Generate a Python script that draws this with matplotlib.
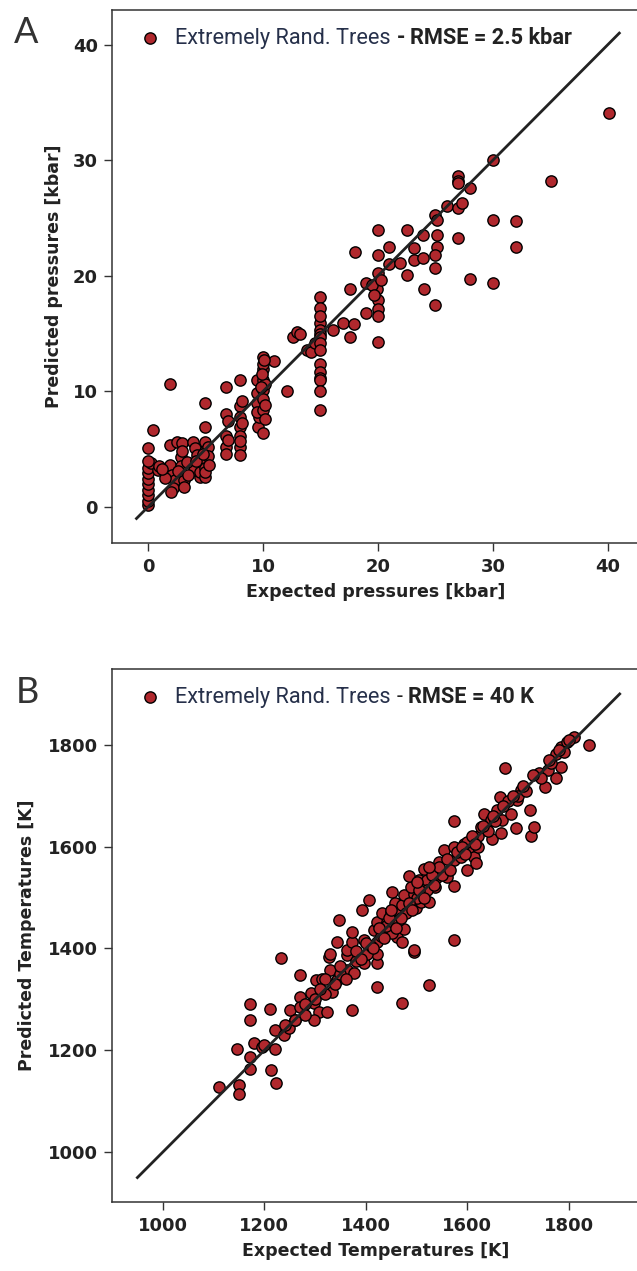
import matplotlib
matplotlib.use('Agg')
import matplotlib.pyplot as plt
import numpy as np


# panel A: pressures [kbar]
exp_p = [0, 0, 0, 0, 0, 0, 0, 0, 0, 0.3, 0.4, 0.9, 1,
         1.9, 1.9, 2.5, 1.9, 2.1, 2.35, 2.2, 2,
         2.9, 2.9, 3.1, 3.1, 3, 3,
         3.9, 4.1, 4.3, 4.5, 4.5, 4, 4.5,
         5, 5, 5, 5, 5, 5, 5, 5, 5.2, 5.2,
         6.8, 6.8, 6.8, 6.8, 6.8, 7, 7,
         8, 8, 8, 8, 8, 8, 8, 8.2, 8.2, 8,
         9.5, 9.5, 9.5, 9.6, 9.7, 9.5,
         10, 10, 10, 10, 10, 10, 10, 10, 10.2, 10.2, 10.2,
         11, 12.1, 12.6, 13, 13.8, 14.2, 13.2, 14.5,
         15, 15, 15, 15, 15, 15, 15, 15, 15, 15, 15, 15, 15, 15, 15,
         16.1, 17, 17.9, 17.6,
         18, 17.6, 19, 19.9, 20, 20, 19, 20, 19.5, 19.7, 20,
         20, 20, 20, 20.3, 21, 21, 21.9, 22.5, 22.5, 23.1, 23.1, 23.9, 23.9, 24,
         25, 25.1, 25.1, 25.1, 25, 25, 25,
         26, 27, 27, 27, 27, 27, 28, 27.3,
         30, 30, 30, 28, 32, 32, 35.1, 40.1,
         0, 1.5, 1.2, 2.6, 3.4, 3.5, 4.2, 4.8, 5.3, 9.8, 9.9, 10.1]
pred_p = [0.2, 0.5, 1.0, 1.5, 2.0, 2.4, 2.9, 3.4, 5.1, 3.8, 6.7, 3.2, 3.5,
          10.6, 5.4, 5.65, 3.6, 2.8, 2.3, 1.6, 1.3,
          4.35, 3.5, 2.3, 1.75, 5.5, 4.8,
          5.65, 5.1, 4.5, 3.9, 2.6, 3.2, 3.0,
          9.0, 6.95, 5.65, 4.8, 4.1, 3.35, 2.6, 3.0, 5.2, 4.4,
          10.4, 8.0, 6.1, 5.2, 4.6, 7.4, 5.8,
          11.0, 8.7, 7.8, 6.9, 6.1, 5.2, 4.5, 9.2, 7.3, 5.7,
          11.0, 9.85, 9.0, 6.95, 7.8, 8.2,
          13.0, 11.9, 11.0, 10.1, 9.3, 8.4, 6.4, 12.4, 10.6, 8.8, 7.6,
          12.6, 10.0, 14.7, 15.1, 13.6, 13.4, 15.0, 14.2,
          18.2, 17.2, 15.9, 15.3, 15.0, 14.7, 14.2, 13.6, 12.4, 11.7, 11.2, 11.0, 10.0, 8.4, 16.5,
          15.3, 15.9, 15.8, 14.7,
          22.1, 18.9, 19.4, 18.9, 17.9, 17.1, 16.8, 14.3, 19.2, 18.3, 16.5,
          24.0, 21.8, 20.2, 19.6, 22.5, 21.0, 21.1, 20.1, 24.0, 22.4, 21.4, 21.5, 23.5, 18.9,
          25.3, 24.8, 23.5, 22.5, 20.7, 17.5, 21.8,
          26.0, 25.9, 23.3, 28.6, 28.2, 28.0, 27.6, 26.3,
          30.0, 24.8, 19.4, 19.7, 24.7, 22.5, 28.2, 34.1,
          4.0, 2.5, 3.3, 3.1, 3.9, 2.8, 4.0, 4.6, 3.6, 10.4, 11.5, 12.7]

# panel B: temperatures [K]
exp_t = [1110, 1151, 1151, 1146, 1172, 1172, 1179, 1195, 1214, 1224, 1222, 1222, 1238, 1248,
         1171, 1171, 1212, 1250, 1232, 1261,
         1271, 1271, 1271, 1291, 1297, 1307, 1324, 1297, 1301, 1314, 1330, 1334, 1343, 1327,
         1363, 1376, 1363, 1373,
         1396, 1422, 1422, 1403, 1422, 1472, 1524, 1495,
         1330, 1363, 1343, 1373, 1396, 1422, 1462, 1472, 1495, 1574, 1373, 1416, 1452, 1475,
         1347, 1422, 1442, 1465, 1406, 1393, 1432, 1449, 1468, 1452, 1458, 1472, 1498, 1475,
         1495, 1508, 1524, 1488, 1485, 1504, 1521, 1537, 1541, 1514, 1560, 1574,
         1554, 1544, 1574, 1587, 1574, 1593, 1606, 1613, 1600, 1616, 1620, 1626, 1574, 1633,
         1646, 1649, 1666, 1659, 1669, 1685, 1695, 1725, 1731, 1723, 1698, 1705, 1664, 1674,
         1752, 1741, 1774, 1758, 1784, 1764, 1774, 1784, 1797, 1810, 1840,
         1350, 1380, 1410, 1430, 1440, 1455, 1480, 1500, 1520, 1550, 1580, 1600, 1620, 1640,
         1655, 1680, 1700, 1715, 1745, 1790, 1300, 1320, 1260, 1240, 1200, 1280,
         1380, 1390, 1400, 1415, 1425, 1435, 1445, 1460, 1470, 1485, 1490, 1505, 1515, 1530,
         1535, 1545, 1560, 1565, 1590, 1595, 1610, 1615, 1630, 1650, 1670, 1690, 1710, 1730,
         1760, 1780, 1800, 1320, 1340, 1310, 1280, 1350, 1360, 1450, 1500, 1525]
pred_t = [1128, 1132, 1115, 1202, 1187, 1164, 1214, 1207, 1161, 1136, 1202, 1240, 1230, 1243,
          1291, 1259, 1282, 1280, 1381, 1259,
          1348, 1305, 1286, 1312, 1292, 1276, 1276, 1259, 1338, 1341, 1358, 1315, 1338, 1384,
          1358, 1351, 1387, 1280,
          1371, 1371, 1390, 1390, 1324, 1292, 1328, 1394,
          1390, 1397, 1413, 1413, 1416, 1413, 1423, 1413, 1397, 1416, 1433, 1436, 1430, 1439,
          1456, 1452, 1452, 1456, 1495, 1475, 1469, 1472, 1472, 1511, 1489, 1485, 1479, 1505,
          1508, 1492, 1492, 1521, 1542, 1534, 1534, 1521, 1541, 1557, 1541, 1523,
          1593, 1570, 1574, 1580, 1600, 1606, 1600, 1580, 1554, 1567, 1620, 1639, 1650, 1665,
          1652, 1616, 1626, 1672, 1652, 1665, 1636, 1621, 1639, 1672, 1692, 1711, 1698, 1755,
          1718, 1744, 1734, 1750, 1757, 1764, 1783, 1796, 1806, 1816, 1800,
          1350, 1375, 1405, 1425, 1445, 1450, 1470, 1500, 1515, 1545, 1590, 1610, 1600, 1630,
          1650, 1690, 1700, 1710, 1735, 1785, 1300, 1310, 1260, 1250, 1210, 1290,
          1395, 1380, 1410, 1400, 1440, 1420, 1460, 1440, 1460, 1490, 1475, 1515, 1500, 1545,
          1525, 1560, 1575, 1555, 1600, 1585, 1620, 1605, 1640, 1660, 1680, 1700, 1720, 1740,
          1770, 1790, 1810, 1340, 1330, 1320, 1270, 1365, 1340, 1475, 1530, 1560]

p_ticks = [0, 10, 20, 30, 40]
t_ticks = [1000, 1200, 1400, 1600, 1800]

RED = '#b0282d'
DARK = '#222222'
MS = 66


def style_axes(ax, ticks, xlabel, ylabel, ypad):
    ax.set_xticks(ticks)
    ax.set_yticks(ticks)
    ax.spines['right'].set_visible(False)
    for s in ['left', 'top', 'bottom']:
        ax.spines[s].set_color('#333333')
        ax.spines[s].set_linewidth(1.1)
    ax.tick_params(direction='out', length=5.5, width=1, color='#333333',
                   labelsize=13, labelcolor=DARK)
    ax.tick_params(axis='x', pad=5)
    ax.tick_params(axis='y', pad=4.5)
    for lab in ax.get_xticklabels() + ax.get_yticklabels():
        lab.set_fontweight('bold')
    ax.set_xlabel(xlabel, fontsize=12.5, fontweight='bold', color=DARK, labelpad=5)
    ax.set_ylabel(ylabel, fontsize=12.5, fontweight='bold', color=DARK, labelpad=ypad)


def add_legend(ax, dash, rmse, dash_bold):
    ax.scatter([0.072], [0.947], s=MS, color=RED, edgecolors='black', linewidths=1.0,
               transform=ax.transAxes, clip_on=False, zorder=5)
    t = ax.text(0.12, 0.936, 'Extremely Rand. Trees', transform=ax.transAxes,
                fontsize=15.7, family='Roboto', color='#26304a', va='baseline')
    t2 = ax.annotate(dash, xy=(1, 0), xycoords=t, xytext=(4, 0), textcoords='offset points',
                     fontsize=15.7, family='Roboto', color=DARK, va='bottom',
                     fontweight='bold' if dash_bold else 'normal')
    ax.annotate(rmse, xy=(1, 0), xycoords=t2, xytext=(4, 0), textcoords='offset points',
                fontsize=15.7, family='Roboto', color=DARK, va='bottom', fontweight='bold')


fig = plt.figure(figsize=(6.37, 12.71), dpi=100)
W = 637.0
H = 1271.0

# panel A
axA = fig.add_axes([112 / W, 1 - 543 / H, (640 - 112) / W, 533 / H])
axA.plot([-1, 41], [-1, 41], color=DARK, linewidth=2, zorder=3)
axA.scatter(exp_p, pred_p, s=MS, color=RED, edgecolors='black', linewidths=1.0, zorder=2)
axA.set_xlim(-3.13, 42.8)
axA.set_ylim(-3.12, 43.0)
style_axes(axA, p_ticks, 'Expected pressures [kbar]', 'Predicted pressures [kbar]', 7)
add_legend(axA, '-', 'RMSE = 2.5 kbar', True)

# panel B
axB = fig.add_axes([112 / W, 1 - 1202 / H, (640 - 112) / W, 533 / H])
axB.plot([950, 1900], [950, 1900], color=DARK, linewidth=2, zorder=3)
axB.scatter(exp_t, pred_t, s=MS, color=RED, edgecolors='black', linewidths=1.0, zorder=2)
axB.set_xlim(900, 1940)
axB.set_ylim(902, 1949)
style_axes(axB, t_ticks, 'Expected Temperatures [K]', 'Predicted Temperatures [K]', 8.5)
add_legend(axB, '-', 'RMSE = 40 K', False)

fig.text(14 / W, 1 - 43 / H, 'A', fontsize=26, color='#333333', family='Lato', va='baseline')
fig.text(16 / W, 1 - 703 / H, 'B', fontsize=26, color='#333333', family='Lato', va='baseline')

fig.savefig('out.png', dpi=100)
